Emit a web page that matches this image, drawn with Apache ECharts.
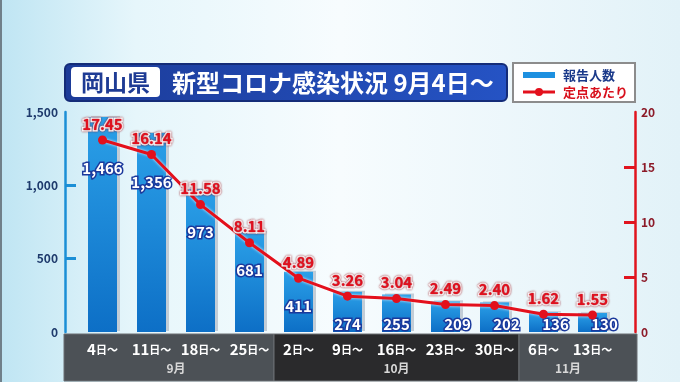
<!DOCTYPE html>
<html><head><meta charset="utf-8">
<script src="https://cdn.jsdelivr.net/npm/echarts@6/dist/echarts.min.js"></script>
<style>html,body{margin:0;padding:0;background:#eef8fc}#c{width:680px;height:382px}</style>
</head><body><div id="c"></div>
<script>
// ---- data ----
var categories = ['4日～','11日～','18日～','25日～','2日～','9日～','16日～','23日～','30日～','6日～','13日～'];
var months = ['9月','10月','11月'];
var monthCounts = [4, 5, 2];
var reports = [1466, 1356, 973, 681, 411, 274, 255, 209, 202, 136, 130];
var perSite = [17.45, 16.14, 11.58, 8.11, 4.89, 3.26, 3.04, 2.49, 2.40, 1.62, 1.55];
var leftTicks = [0, 500, 1000, 1500];
var rightTicks = [0, 5, 10, 15, 20];
var titlePref = '岡山県';
var titleMain = '新型コロナ感染状況 9月4日～';
var nameBar = '報告人数';
var nameLine = '定点あたり';

var W = 680, H = 382;
var GL = 78, GR = 63, GT = 112, GB = 50;
var OFF_L = 13, OFF_R = 18;
var FONT = '"Noto Sans CJK JP", "Noto Sans", sans-serif';

var chart = echarts.init(document.getElementById('c'), null, {renderer: 'canvas'});

function barLabelLayout(p) {
  var i = p.dataIndex;
  var cx = p.rect.x + p.rect.width / 2;
  var ly;
  try {
    ly = chart.convertToPixel({seriesIndex: 1}, [i, perSite[i]])[1];
  } catch (e) { ly = p.rect.y + 30; }
  var raw = ly + 28;
  var dx = raw > 330 ? 12 : 0;
  return {x: cx + dx, y: Math.min(raw, 324), align: 'center', verticalAlign: 'middle'};
}

var baseGraphics = [
  {type: 'rect', z: -30, shape: {x: 0, y: 0, width: W, height: H},
   style: {fill: new echarts.graphic.LinearGradient(0, 0, 1, 0, [
     {offset: 0, color: '#bfe5f3'}, {offset: 0.2, color: '#e6f6fb'},
     {offset: 0.5, color: '#f7fcfe'}, {offset: 1, color: '#e2f2f8'}])}},
  {type: 'rect', z: -29, shape: {x: 0, y: 0, width: 2, height: H}, style: {fill: '#70808a'}},
  // title
  {type: 'rect', z: 10, shape: {x: 65, y: 64, width: 442, height: 37, r: 5},
   style: {fill: new echarts.graphic.LinearGradient(0, 0, 1, 0, [
     {offset: 0, color: '#1c3b98'}, {offset: 1, color: '#2553c4'}]), stroke: '#142c78', lineWidth: 2}},
  {type: 'rect', z: 11, shape: {x: 71, y: 67, width: 89, height: 30, r: 4}, style: {fill: '#ffffff'}},
  {type: 'text', z: 12, x: 115.5, y: 82.5, style: {text: titlePref, fill: '#1e3b94', font: 'bold 23px ' + FONT, align: 'center', verticalAlign: 'middle'}},
  {type: 'text', z: 12, x: 172, y: 83, style: {text: titleMain, fill: '#ffffff', font: 'bold 24px ' + FONT, align: 'left', verticalAlign: 'middle'}},
  // legend
  {type: 'rect', z: 10, shape: {x: 513, y: 63, width: 122, height: 39}, style: {fill: '#ffffff', stroke: '#8c8c8c', lineWidth: 2}},
  {type: 'rect', z: 11, shape: {x: 523, y: 72, width: 32, height: 6}, style: {fill: '#1d90e0'}},
  {type: 'text', z: 11, x: 563, y: 75, style: {text: nameBar, fill: '#1b3a8a', font: 'bold 13px ' + FONT, align: 'left', verticalAlign: 'middle'}},
  {type: 'line', z: 11, shape: {x1: 523, y1: 92, x2: 555, y2: 92}, style: {stroke: '#e3101c', lineWidth: 3}},
  {type: 'circle', z: 12, shape: {cx: 539, cy: 92, r: 4}, style: {fill: '#e3101c'}},
  {type: 'text', z: 11, x: 563, y: 92, style: {text: nameLine, fill: '#d8101c', font: 'bold 13px ' + FONT, align: 'left', verticalAlign: 'middle'}}
];

var option = {
  animation: false,
  grid: {left: GL, right: GR, top: GT, bottom: GB, containLabel: false},
  xAxis: {
    type: 'category', data: categories,
    axisLine: {show: false}, axisTick: {show: false},
    axisLabel: {
      margin: 10, interval: 0,
      formatter: function (v) {
        var m = v.match(/^(\d+)(.*)$/);
        return m ? '{n|' + m[1] + '}{s|' + m[2] + '}' : v;
      },
      rich: {
        n: {color: '#ffffff', fontSize: 15, fontWeight: 'bold', fontFamily: FONT},
        s: {color: '#ffffff', fontSize: 11, fontWeight: 'bold', fontFamily: FONT}
      }
    }
  },
  yAxis: [{
    type: 'value', min: leftTicks[0], max: leftTicks[leftTicks.length - 1], interval: 500,
    offset: OFF_L,
    axisLine: {show: true, lineStyle: {color: '#1b8fd6', width: 2.5}},
    axisTick: {show: true, inside: true, length: 11, lineStyle: {color: '#1b8fd6', width: 3}, customValues: [500, 1000]},
    splitLine: {show: false},
    axisLabel: {margin: 7, color: '#1e3a6c', fontWeight: 'bold', fontSize: 12, fontFamily: FONT,
      formatter: function (v) { return v.toLocaleString('en-US'); }}
  }, {
    type: 'value', min: rightTicks[0], max: rightTicks[rightTicks.length - 1], interval: 5,
    offset: OFF_R, position: 'right',
    axisLine: {show: true, lineStyle: {color: '#e0141e', width: 2.5}},
    axisTick: {show: true, inside: true, length: 11, lineStyle: {color: '#e0141e', width: 3}, customValues: [5, 10, 15]},
    splitLine: {show: false},
    axisLabel: {margin: 6, color: '#8c1a28', fontWeight: 'bold', fontSize: 12, fontFamily: FONT}
  }],
  series: [{
    name: nameBar, type: 'bar', data: reports, barWidth: 29, yAxisIndex: 0, z: 2,
    itemStyle: {
      color: new echarts.graphic.LinearGradient(0, 0, 0, 1, [
        {offset: 0, color: '#2ba0e8'}, {offset: 1, color: '#0d6fc6'}]),
      shadowColor: 'rgba(190,200,210,0.9)', shadowOffsetX: 3, shadowOffsetY: -1, shadowBlur: 0
    },
    label: {
      show: true, position: 'insideTop',
      formatter: function (p) { return p.value.toLocaleString('en-US'); },
      color: '#ffffff', fontSize: 15, fontWeight: 'bold', fontFamily: FONT,
      textBorderColor: '#1a399c', textBorderWidth: 3
    },
    labelLayout: barLabelLayout
  }, {
    name: nameLine, type: 'line', data: perSite, yAxisIndex: 1, z: 5,
    symbol: 'circle', symbolSize: 9,
    lineStyle: {color: '#e3101c', width: 3, shadowColor: 'rgba(255,255,255,0.9)', shadowBlur: 3},
    itemStyle: {color: '#e3101c'},
    label: {
      show: true, position: 'top', distance: 4,
      formatter: function (p) { return p.value.toFixed(2); },
      color: '#e0101e', fontSize: 15, fontWeight: 'bold', fontFamily: FONT,
      textBorderColor: '#ffffff', textBorderWidth: 3,
      textShadowColor: 'rgba(140,0,10,0.9)', textShadowBlur: 2
    }
  }],
  graphic: baseGraphics
};
chart.setOption(option);

// month band, derived from axis pixel positions
function px(i) { return chart.convertToPixel({xAxisIndex: 0}, i); }
var bandL = GL - OFF_L - 1, bandR = W - GR + OFF_R + 2;
var bandTop = H - GB + 2, bandBot = H - 1;
var bands = [], start = 0;
for (var g = 0; g < months.length; g++) {
  var end = start + monthCounts[g] - 1;
  var x0 = g === 0 ? bandL : (px(start - 1) + px(start)) / 2;
  var x1 = g === months.length - 1 ? bandR : (px(end) + px(end + 1)) / 2;
  bands.push({type: 'rect', z: -10, shape: {x: x0, y: bandTop, width: x1 - x0, height: bandBot - bandTop},
    style: {fill: g === 1 ? '#2a2a2c' : '#4c5156', stroke: '#6a6e72', lineWidth: 1}});
  bands.push({type: 'text', z: 1, x: (px(start) + px(end)) / 2, y: 368,
    style: {text: months[g], fill: '#d8d8d8', font: 'bold 12px ' + FONT, align: 'center', verticalAlign: 'middle'}});
  start = end + 1;
}
chart.setOption({graphic: baseGraphics.concat(bands)});
</script></body></html>
